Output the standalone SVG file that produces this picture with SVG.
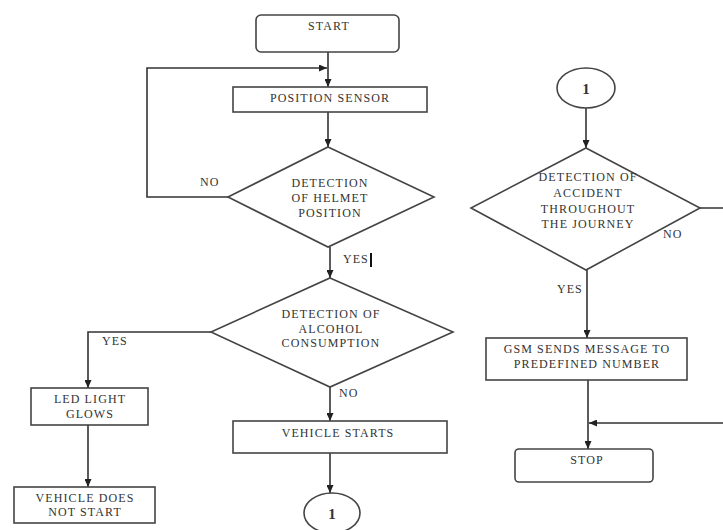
<svg xmlns="http://www.w3.org/2000/svg" width="723" height="530" viewBox="0 0 723 530">
<defs>
<marker id="ah" markerWidth="8" markerHeight="7" refX="8" refY="3.5" orient="auto" markerUnits="userSpaceOnUse">
<path d="M0,0 L8,3.5 L0,7 z" fill="#222"/>
</marker>
<style>
.shape{fill:#fff;stroke:#444;stroke-width:1.6}
.t{font-family:"Liberation Serif","Times New Roman",serif;font-size:12px;letter-spacing:1.1px;fill:#333;text-anchor:middle}
.n{font-family:"Liberation Serif","Times New Roman",serif;font-size:15px;font-weight:bold;fill:#333;text-anchor:middle}
.l{font-family:"Liberation Serif","Times New Roman",serif;font-size:12px;letter-spacing:1px;fill:#333}
.c{fill:none;stroke:#333;stroke-width:1.6;marker-end:url(#ah)}
</style>
</defs>
<rect width="723" height="530" fill="#fff"/>

<g id="connectors">
<path class="c" d="M328 52 V87"/>
<path class="c" d="M228 197 H147 V68 H327"/>
<path class="c" d="M328 112 V147"/>
<path class="c" d="M330 247 V278"/>
<path class="c" d="M211 332 H88 V388"/>
<path class="c" d="M88 425 V487"/>
<path class="c" d="M330 387 V421"/>
<path class="c" d="M330 453 V493"/>
<path class="c" d="M586 108 V148"/>
<path class="c" d="M587 270 V338"/>
<path class="c" d="M588 380 V449"/>
<path class="c" d="M700 208 H730 V423 H589"/>
<text class="l" x="200" y="186">NO</text>
<text class="l" x="343" y="263">YES</text>
<rect x="370" y="253" width="2" height="14" fill="#111"/>
<text class="l" x="102" y="345">YES</text>
<text class="l" x="339" y="397">NO</text>
<text class="l" x="663" y="238">NO</text>
<text class="l" x="557" y="293">YES</text>
</g>

<g id="start">
<rect class="shape" x="256" y="15" width="143" height="37" rx="5"/>
<text class="t" x="329" y="30">START</text>
</g>

<g id="position-sensor">
<rect class="shape" x="233" y="87" width="194" height="25"/>
<text class="t" x="330" y="102">POSITION SENSOR</text>
</g>

<g id="helmet-decision">
<polygon class="shape" points="328,147 434,197 328,247 228,197"/>
<text class="t" x="330" y="187">DETECTION</text>
<text class="t" x="330" y="202">OF HELMET</text>
<text class="t" x="330" y="217">POSITION</text>
</g>

<g id="alcohol-decision">
<polygon class="shape" points="330,278 453,332 330,387 211,332"/>
<text class="t" x="331" y="318">DETECTION OF</text>
<text class="t" x="331" y="333">ALCOHOL</text>
<text class="t" x="331" y="347">CONSUMPTION</text>
</g>

<g id="led-light">
<rect class="shape" x="31" y="388" width="117" height="37"/>
<text class="t" x="90" y="403">LED LIGHT</text>
<text class="t" x="90" y="418">GLOWS</text>
</g>

<g id="vehicle-does-not-start">
<rect class="shape" x="14" y="487" width="141" height="36"/>
<text class="t" x="85" y="502">VEHICLE DOES</text>
<text class="t" x="85" y="516">NOT START</text>
</g>

<g id="vehicle-starts">
<rect class="shape" x="233" y="421" width="214" height="32"/>
<text class="t" x="338" y="437">VEHICLE STARTS</text>
</g>

<g id="connector-1-bottom">
<ellipse class="shape" cx="332" cy="513" rx="28" ry="20"/>
<text class="n" x="332" y="519">1</text>
</g>

<g id="connector-1-top">
<ellipse class="shape" cx="586" cy="88" rx="29" ry="20"/>
<text class="n" x="586" y="94">1</text>
</g>

<g id="accident-decision">
<polygon class="shape" points="586,148 700,208 586,270 471,208"/>
<text class="t" x="588" y="181">DETECTION OF</text>
<text class="t" x="588" y="197">ACCIDENT</text>
<text class="t" x="588" y="213">THROUGHOUT</text>
<text class="t" x="588" y="228">THE JOURNEY</text>
</g>

<g id="gsm">
<rect class="shape" x="486" y="338" width="201" height="42"/>
<text class="t" x="587" y="353">GSM SENDS MESSAGE TO</text>
<text class="t" x="587" y="368">PREDEFINED NUMBER</text>
</g>

<g id="stop">
<rect class="shape" x="515" y="449" width="138" height="33" rx="4"/>
<text class="t" x="587" y="464">STOP</text>
</g>
</svg>
